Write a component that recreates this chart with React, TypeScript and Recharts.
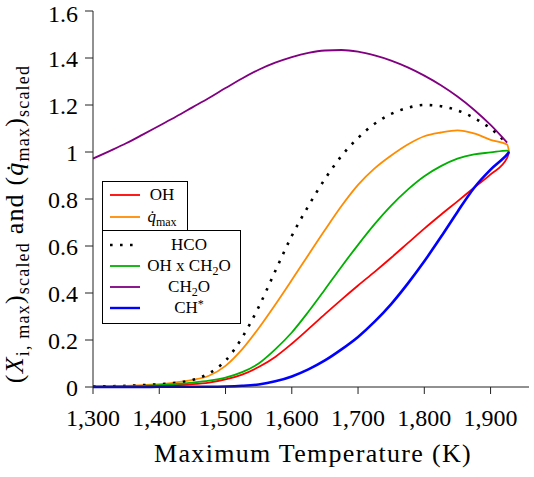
import React from 'react';
import { LineChart, Line, XAxis, YAxis } from 'recharts';

const FONT = 'Liberation Serif, serif';

const temps = [1300, 1325, 1350, 1375, 1400, 1425, 1450, 1475, 1500, 1525, 1550, 1575, 1600, 1625, 1650, 1675, 1700, 1725, 1750, 1775, 1800, 1825, 1850, 1875, 1900, 1925, 1928];

const ohValues = [0.001, 0.001, 0.002, 0.003, 0.005, 0.008, 0.012, 0.019, 0.032, 0.053, 0.085, 0.128, 0.184, 0.246, 0.31, 0.372, 0.432, 0.49, 0.55, 0.612, 0.674, 0.733, 0.79, 0.848, 0.905, 0.975, 1.0];
const qdotValues = [0.002, 0.003, 0.005, 0.008, 0.012, 0.02, 0.03, 0.048, 0.09, 0.16, 0.25, 0.35, 0.455, 0.562, 0.668, 0.77, 0.86, 0.93, 0.985, 1.032, 1.067, 1.083, 1.092, 1.079, 1.052, 1.032, 1.0];
const hcoValues = [0.002, 0.003, 0.005, 0.008, 0.012, 0.018, 0.03, 0.058, 0.112, 0.21, 0.34, 0.493, 0.643, 0.77, 0.885, 0.983, 1.06, 1.12, 1.162, 1.188, 1.2, 1.195, 1.177, 1.145, 1.1, 1.035, null];
const ohCh2oValues = [0.001, 0.002, 0.003, 0.005, 0.008, 0.013, 0.019, 0.027, 0.04, 0.063, 0.1, 0.16, 0.232, 0.32, 0.415, 0.512, 0.605, 0.693, 0.772, 0.84, 0.897, 0.94, 0.972, 0.99, 0.998, 1.006, 1.0];
const ch2oValues = [0.972, 1.004, 1.037, 1.074, 1.112, 1.15, 1.19, 1.23, 1.272, 1.313, 1.35, 1.38, 1.404, 1.422, 1.432, 1.434, 1.427, 1.411, 1.389, 1.36, 1.325, 1.284, 1.236, 1.18, 1.115, 1.04, null];
const chStarValues = [0, 0, 0, 0, 0.001, 0.001, 0.001, 0.001, 0.002, 0.005, 0.011, 0.024, 0.045, 0.075, 0.113, 0.16, 0.213, 0.278, 0.353, 0.44, 0.535, 0.638, 0.745, 0.847, 0.925, 0.99, 1.0];

const xTicks = [1300, 1400, 1500, 1600, 1700, 1800, 1900];
const yTicks = [0, 0.2, 0.4, 0.6, 0.8, 1, 1.2, 1.4, 1.6];

const data = temps.map((t, i) => ({
  t,
  oh: ohValues[i],
  qdot: qdotValues[i],
  hco: hcoValues[i],
  ohch2o: ohCh2oValues[i],
  ch2o: ch2oValues[i],
  chstar: chStarValues[i],
}));

const series = [
  { key: 'oh', color: '#ff0000', width: 1.8, dash: undefined as string | undefined },
  { key: 'qdot', color: '#ff8c00', width: 1.8, dash: undefined },
  { key: 'hco', color: '#000000', width: 2.6, dash: '2.6 7.4' },
  { key: 'ohch2o', color: '#00b000', width: 1.8, dash: undefined },
  { key: 'ch2o', color: '#800080', width: 1.8, dash: undefined },
  { key: 'chstar', color: '#0000ff', width: 2.6, dash: undefined },
];

const fmtX = (v: number) => v.toLocaleString('en-US');
const fmtY = (v: number) => (v === 0 || v === 1 ? String(v) : v.toFixed(1));
const blank = () => '';

function XLabel(props: any) {
  const vb = props.viewBox || {};
  const cx = (vb.x ?? 93) + (vb.width ?? 436) / 2;
  return (
    <text x={cx + 2} y={462} textAnchor="middle" style={{ fontFamily: FONT }} fontSize={26} letterSpacing={1.3} fill="#000">
      Maximum Temperature (K)
    </text>
  );
}

function YLabel() {
  const big = 26;
  const small = 18;
  const sd = 6;
  return (
    <text transform="translate(23,224) rotate(-90)" textAnchor="middle" style={{ fontFamily: FONT }} fontSize={big} letterSpacing={1.2} fill="#000">
      <tspan>(</tspan>
      <tspan fontStyle="italic">X</tspan>
      <tspan fontSize={small} dy={sd}>i, max</tspan>
      <tspan dy={-sd}>)</tspan>
      <tspan fontSize={small} dy={sd}>scaled</tspan>
      <tspan dy={-sd}> and (</tspan>
      <tspan fontStyle="italic">{'q\u0307'}</tspan>
      <tspan fontSize={small} dy={sd}>max</tspan>
      <tspan dy={-sd}>)</tspan>
      <tspan fontSize={small} dy={sd}>scaled</tspan>
    </text>
  );
}

function Sample({ color, width, dash }: { color: string; width: number; dash?: string }) {
  return (
    <svg width={30} height={6} style={{ position: 'absolute', left: 7, top: 8 }}>
      <line x1={0} y1={3} x2={30} y2={3} stroke={color} strokeWidth={width > 2 ? 2.4 : 1.8} strokeDasharray={dash} />
    </svg>
  );
}

function Row({ top, center, s, children }: any) {
  return (
    <div style={{ position: 'absolute', left: 0, top, width: '100%', height: 22 }}>
      <Sample color={s.color} width={s.width} dash={s.dash} />
      <div style={{ position: 'absolute', left: center - 60, width: 120, top: 0, textAlign: 'center', lineHeight: '22px', whiteSpace: 'nowrap' }}>{children}</div>
    </div>
  );
}

function LegendBoxes() {
  const box: React.CSSProperties = { position: 'absolute', border: '1px solid #000', background: '#fff', boxSizing: 'border-box', fontFamily: FONT, fontSize: 17, color: '#000' };
  const sub: React.CSSProperties = { fontSize: 12, verticalAlign: '-0.3em', lineHeight: 0 };
  const sup: React.CSSProperties = { fontSize: 12, verticalAlign: '0.45em', lineHeight: 0 };
  return (
    <>
      <div style={{ ...box, left: 102, top: 181, width: 86, height: 50 }}>
        <Row top={2} center={59} s={series[0]}>OH</Row>
        <Row top={24} center={59} s={series[1]}><i>{'q\u0307'}</i><span style={sub}>max</span></Row>
      </div>
      <div style={{ ...box, left: 102, top: 230, width: 139, height: 94 }}>
        <Row top={3} center={86} s={series[2]}>HCO</Row>
        <Row top={24} center={86} s={series[3]}>OH x CH<span style={sub}>2</span>O</Row>
        <Row top={45} center={86} s={series[4]}>CH<span style={sub}>2</span>O</Row>
        <Row top={66} center={86} s={series[5]}>CH<span style={sup}>*</span></Row>
      </div>
    </>
  );
}

export default function App() {
  const axisStroke = '#222';
  return (
    <div style={{ position: 'absolute', left: 0, top: 0, width: 534, height: 477, background: '#fff' }}>
      <LineChart width={534} height={477} data={data} margin={{ top: 11, right: 5, bottom: 0, left: 0 }}>
        <XAxis
          xAxisId="b"
          dataKey="t"
          type="number"
          domain={[1300, 1958]}
          ticks={xTicks}
          tickFormatter={fmtX}
          height={90}
          tickSize={7}
          tickMargin={15}
          stroke={axisStroke}
          tick={{ fill: '#000', fontSize: 24, style: { fontFamily: FONT } }}
          allowDataOverflow
          label={<XLabel />}
        />
        <XAxis
          xAxisId="t"
          orientation="top"
          dataKey="t"
          type="number"
          domain={[1300, 1958]}
          ticks={xTicks}
          tickFormatter={blank}
          height={0}
          tickSize={7}
          stroke={axisStroke}
          allowDataOverflow
        />
        <YAxis
          yAxisId="l"
          type="number"
          domain={[0, 1.6]}
          ticks={yTicks}
          tickFormatter={fmtY}
          width={93}
          tickSize={8}
          tickMargin={7}
          stroke={axisStroke}
          tick={{ fill: '#000', fontSize: 24, style: { fontFamily: FONT } }}
          label={<YLabel />}
        />
        <YAxis
          yAxisId="r"
          orientation="right"
          type="number"
          domain={[0, 1.6]}
          ticks={yTicks}
          tickFormatter={blank}
          width={0}
          tickSize={7}
          stroke={axisStroke}
        />
        {series.map((s) => (
          <Line
            key={s.key}
            xAxisId="b"
            yAxisId="l"
            dataKey={s.key}
            type="monotone"
            stroke={s.color}
            strokeWidth={s.width}
            strokeDasharray={s.dash}
            dot={false}
            activeDot={false}
            isAnimationActive={false}
          />
        ))}
      </LineChart>
      <LegendBoxes />
    </div>
  );
}
